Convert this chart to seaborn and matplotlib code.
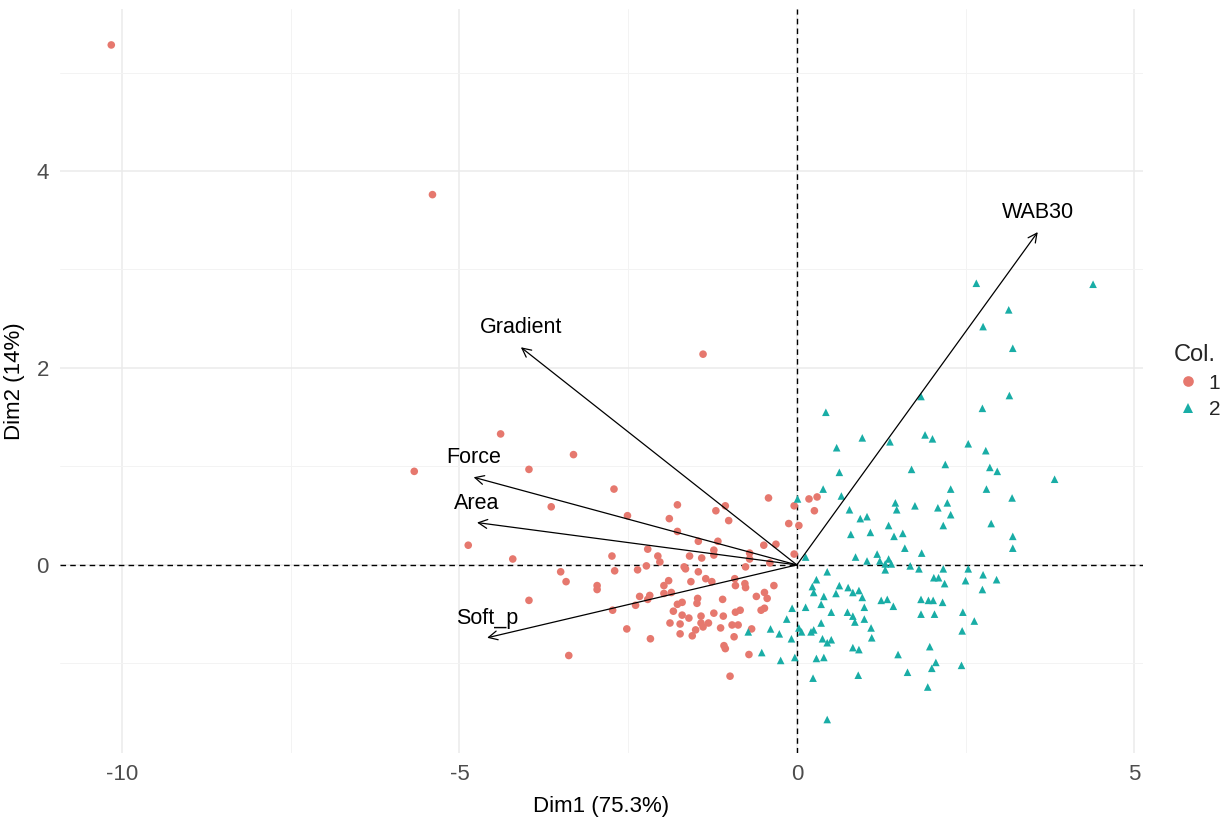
import numpy as np
import pandas as pd
import seaborn as sns
import matplotlib.pyplot as plt
from matplotlib.ticker import FixedLocator

# ---------------- data ----------------
red_x = [-10.16, -5.40, -1.39,
         -4.39, -3.31, -5.67, -3.97, -2.71, -3.64, -1.77, -0.42, -1.20, -1.06,
         -2.51, -1.89, -1.01, -0.12, -0.04, -4.87, -4.21, -1.77, -1.46, -1.17,
         -0.49, -0.31, -2.21, -1.23, -1.23, -0.70, -0.70, -0.04, -2.74, -2.06,
         -2.03, -1.59, -1.41, -1.67, -1.65, -2.23, -2.36, -2.70, -3.50, -0.76,
         -1.46, -3.42, -2.96, -2.96, -1.90, -1.97, -1.57, -1.35, -1.26, -0.92,
         -0.91, -0.77, -0.76, -0.34, -1.97, -1.86, -2.33, -2.18, -2.21, -1.47,
         -0.48, -0.60, -0.44, -3.97, -2.39, -1.77, -1.70, -1.48, -1.10, -2.73,
         -1.83, -1.70, -1.60, -1.42, -1.23, -1.09, -0.91, -0.84, -0.53, -0.48,
         -1.88, -1.73, -1.42, -1.39, -1.31, -1.50, -1.13, -0.96, -0.87, -2.52,
         -1.73, -1.55, -0.67, -0.93, -2.17, -1.08, -1.06, -3.38, -0.71, -0.99,
         0.18, 0.30, 0.26, 0.03, -0.40]
red_y = [5.28, 3.76, 2.14,
         1.33, 1.12, 0.95, 0.97, 0.77, 0.59, 0.61, 0.68, 0.55, 0.60,
         0.50, 0.47, 0.45, 0.42, 0.60, 0.20, 0.06, 0.34, 0.24, 0.24,
         0.20, 0.21, 0.16, 0.15, 0.10, 0.12, 0.06, 0.11, 0.09, 0.09,
         0.03, 0.09, 0.07, -0.02, -0.04, -0.01, -0.05, -0.06, -0.07, -0.02,
         -0.07, -0.17, -0.21, -0.25, -0.16, -0.21, -0.17, -0.14, -0.17, -0.14,
         -0.21, -0.19, -0.23, -0.21, -0.29, -0.28, -0.32, -0.31, -0.35, -0.34,
         -0.28, -0.32, -0.34, -0.36, -0.41, -0.40, -0.38, -0.39, -0.35, -0.46,
         -0.47, -0.51, -0.54, -0.52, -0.49, -0.52, -0.48, -0.46, -0.46, -0.44,
         -0.59, -0.60, -0.59, -0.63, -0.59, -0.66, -0.64, -0.61, -0.61, -0.65,
         -0.70, -0.72, -0.65, -0.73, -0.75, -0.82, -0.85, -0.92, -0.91, -1.13,
         0.67, 0.69, 0.55, 0.40, 0.02]

teal_x = [2.66, 4.39, 3.14, 2.76, 3.20, 1.84, 3.15, 2.75,
          0.43, 0.97, 0.59, 1.38, 1.90, 2.01, 2.54, 2.80, 0.63, 1.70,
          2.20, 2.86, 2.97, 3.82, 0.39, 0.01, 0.66, 2.28, 2.81, 3.19,
          0.78, 1.46, 1.48, 1.75, 2.09, 2.23, 0.94, 1.04, 2.28, 2.17,
          2.88, 0.80, 1.09, 1.36, 1.44, 1.57, 3.20, 3.20, 1.60, 1.85,
          0.87, 1.19, 1.04, 1.23, 1.36, 1.31, 1.40, 1.31, 1.68, 1.81,
          0.13, 2.17, 2.54, 0.45, 2.03, 2.10, 2.19, 2.50, 2.76, 2.96,
          2.75, 0.29, 0.23, 0.25, 0.63, 0.76, 0.58, 0.83, 0.92, 0.40,
          0.97, 0.36, 1.25, 1.34, 1.43, 1.84, 1.95, 2.02, 2.16, 0.13,
          -0.07, 1.00, 0.51, 0.75, 1.84, 2.04, 2.46, -0.15, 0.83, 0.86,
          1.00, 0.36, 2.63, 0.03, 0.07, 0.21, 0.25, -0.39, -0.26, -0.72,
          1.10, 0.38, 0.45, 0.51, -0.08, 1.11, 2.45, 0.83, 0.92, 1.97,
          -0.52, 1.50, -0.24, -0.03, 0.29, 0.40, 2.06, 2.00, 2.44, 1.64,
          0.91, 0.24, 1.94, 0.45]
teal_y = [2.86, 2.85, 2.59, 2.42, 2.20, 1.71, 1.72, 1.59,
          1.55, 1.29, 1.19, 1.25, 1.32, 1.28, 1.23, 1.16, 0.94, 0.97,
          1.02, 0.99, 0.95, 0.87, 0.77, 0.67, 0.70, 0.77, 0.77, 0.68,
          0.56, 0.63, 0.56, 0.60, 0.58, 0.63, 0.47, 0.49, 0.51, 0.40,
          0.42, 0.31, 0.33, 0.40, 0.29, 0.32, 0.29, 0.17, 0.17, 0.12,
          0.08, 0.11, 0.04, 0.04, 0.06, 0.01, 0.01, -0.05, -0.01, -0.04,
          0.08, -0.04, -0.04, -0.07, -0.13, -0.13, -0.19, -0.16, -0.10, -0.15,
          -0.25, -0.15, -0.22, -0.28, -0.21, -0.23, -0.29, -0.28, -0.26, -0.32,
          -0.33, -0.40, -0.36, -0.35, -0.42, -0.35, -0.36, -0.36, -0.38, -0.43,
          -0.44, -0.43, -0.48, -0.48, -0.50, -0.50, -0.48, -0.55, -0.52, -0.58,
          -0.55, -0.59, -0.57, -0.64, -0.68, -0.68, -0.66, -0.65, -0.70, -0.68,
          -0.64, -0.75, -0.79, -0.76, -0.75, -0.74, -0.67, -0.84, -0.86, -0.83,
          -0.89, -0.91, -0.97, -0.94, -0.95, -0.94, -0.99, -1.05, -1.02, -1.09,
          -1.12, -1.15, -1.24, -1.57]

var_names = ["Gradient", "Force", "Area", "Soft_p", "WAB30"]
var_x = [-4.09, -4.79, -4.74, -4.59, 3.57]
var_y = [2.21, 0.89, 0.43, -0.74, 3.38]

x_ticks = [-10, -5, 0, 5]
y_ticks = [0, 2, 4]
x_label = "Dim1 (75.3%)"
y_label = "Dim2 (14%)"
legend_title = "Col."
groups = ["1", "2"]

# ---------------- plot ----------------
sns.set_theme(style="white")
plt.rcParams["font.family"] = ["Liberation Sans", "DejaVu Sans"]
plt.rcParams["axes.unicode_minus"] = False

df = pd.DataFrame({
    "Dim1": red_x + teal_x,
    "Dim2": red_y + teal_y,
    legend_title: [groups[0]] * len(red_x) + [groups[1]] * len(teal_x),
})

fig = plt.figure(figsize=(12.3, 8.19), dpi=100)
ax = fig.add_axes([60 / 1230, 1 - 753 / 819, (1143 - 60) / 1230, (753 - 9) / 819])

ax.set_xlim(-10.92, 5.13)
ax.set_ylim(-1.91, 5.645)
ax.xaxis.set_major_locator(FixedLocator(x_ticks))
ax.xaxis.set_minor_locator(FixedLocator([-7.5, -2.5, 2.5]))
ax.yaxis.set_major_locator(FixedLocator(y_ticks))
ax.yaxis.set_minor_locator(FixedLocator([-1, 1, 3, 5]))
ax.grid(which="major", color="#EBEBEB", lw=1.1, zorder=0)
ax.grid(which="minor", color="#F3F3F3", lw=0.7, zorder=0)
ax.set_axisbelow(True)
for s in ax.spines.values():
    s.set_visible(False)

ax.axhline(0, color="black", lw=1.0, ls=(0, (4, 3)), zorder=1)
ax.axvline(0, color="black", lw=1.0, ls=(0, (4, 3)), zorder=1)

palette = {groups[0]: "#E6786E", groups[1]: "#19ADA6"}
sns.scatterplot(data=df, x="Dim1", y="Dim2", hue=legend_title, style=legend_title,
                hue_order=groups, style_order=groups,
                markers={groups[0]: "o", groups[1]: "^"}, palette=palette,
                s=30, linewidth=0, ax=ax, zorder=3)

for name, vx, vy in zip(var_names, var_x, var_y):
    ax.annotate("", xy=(vx, vy), xytext=(0, 0),
                arrowprops=dict(arrowstyle="->", color="black", lw=0.9,
                                mutation_scale=16, shrinkA=0, shrinkB=0),
                zorder=4)
    ax.annotate(name, xy=(vx, vy), xytext=(0, 14), textcoords="offset points",
                ha="center", va="center", fontsize=15.5, color="black", zorder=5)

ax.tick_params(axis="both", which="major", length=4, width=0.8, color="#555555",
               labelsize=16, labelcolor="#4D4D4D", pad=4)
ax.tick_params(axis="both", which="minor", length=0)
ax.set_xlabel(x_label, fontsize=16, color="black", labelpad=8)
ax.set_ylabel(y_label, fontsize=16, color="black", labelpad=8)

handles, labels = ax.get_legend_handles_labels()
if ax.legend_ is not None:
    ax.legend_.remove()
leg = fig.legend(handles, labels, title=legend_title, loc="upper left",
                 bbox_to_anchor=(1163 / 1230, 1 - 334 / 819), frameon=False,
                 fontsize=15, title_fontsize=17, handletextpad=0.3,
                 labelspacing=0.35, borderpad=0, handlelength=1.4,
                 markerscale=1.4)
leg._legend_box.align = "left"

fig.savefig("out.png", dpi=100)
